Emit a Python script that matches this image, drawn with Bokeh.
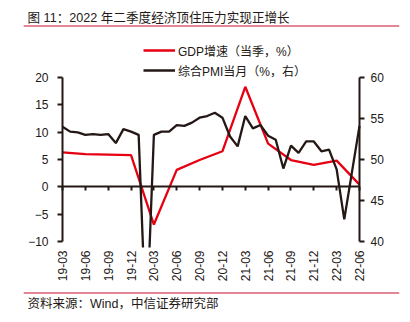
import math
from bokeh.plotting import figure
from bokeh.layouts import column
from bokeh.models import (Range1d, LinearAxis, FixedTicker, Label, Legend,
                          LegendItem, Span, ColumnDataSource)
from bokeh.embed import file_html
from bokeh.resources import INLINE

# ---- data ----
tick_labels = ["19-03", "19-06", "19-09", "19-12", "20-03", "20-06", "20-09",
               "20-12", "21-03", "21-06", "21-09", "21-12", "22-03", "22-06"]

# GDP yoy (quarterly, %)
gdp = [6.3, 6.0, 5.9, 5.8, -6.9, 3.1, 4.9, 6.5, 18.3, 7.9, 4.9, 4.0, 4.8, 0.4]

# Composite PMI (monthly), 2019-03 .. 2022-06
pmi = [54.0, 53.4, 53.3, 53.0, 53.1, 53.0, 53.1, 52.0, 53.7, 53.4,
       53.0, 28.9, 53.0, 53.4, 53.4, 54.2, 54.1, 54.5, 55.1, 55.3, 55.7, 55.1,
       52.8, 51.6, 55.3, 53.8, 54.2, 52.9, 52.4, 48.9, 51.7, 50.8, 52.2, 52.2,
       51.0, 51.2, 48.8, 42.7, 48.4, 54.1]

left_ticks = [-10, -5, 0, 5, 10, 15, 20]
right_ticks = [40, 45, 50, 55, 60]

title_text = "图 11：2022 年二季度经济顶住压力实现正增长"
source_text = "资料来源：Wind，中信证券研究部"
gdp_name = "GDP增速（当季，%）"
pmi_name = "综合PMI当月（%，右）"

# ---- positions (months since 2019-03) ----
pmi_x = list(range(len(pmi)))
gdp_x = [3 * i for i in range(len(gdp))]
tick_pos = gdp_x
x_lo, x_hi = 0, len(pmi) - 1

RED = "#e60012"
RULE = "#c8102e"
BLACK = "#231815"
FONT = "Liberation Sans, Noto Sans CJK SC"
W = 410

# common horizontal frame (the red rules' extent)
FL, FR = 23, 399
# plot-area pixel extent inside it
AL, AR = 62, 359
ppm = (AR - AL) / (x_hi - x_lo)

def strip(height):
    f = figure(width=W, height=height, output_backend="svg", toolbar_location=None,
               x_range=Range1d(0, FR - FL), y_range=Range1d(height, 0),
               x_axis_location=None, y_axis_location=None,
               min_border_left=FL, min_border_right=W - FR,
               min_border_top=0, min_border_bottom=0)
    f.grid.visible = False
    f.outline_line_color = None
    return f

# ---------- title strip ----------
TH = 27
t = strip(TH)
t.add_layout(Label(x=4, y=17, text=title_text, text_font_size="12.6px", text_font=FONT,
                   text_baseline="middle", text_color=BLACK))
t.add_layout(Span(location=25.5, dimension="width", line_color=RULE, line_width=1))

# ---------- main chart ----------
PH = 264
top_extra = 41          # px of frame above the "20" tick
bot_extra = 6           # px of frame below the "-10" tick (room for its label)
scale_px = 164          # px between -10 and 20
p = figure(width=W, height=PH, output_backend="svg", toolbar_location=None,
           x_range=Range1d(x_lo - (AL - FL) / ppm, x_hi + (FR - AR) / ppm),
           y_range=Range1d(-10 - 30 * bot_extra / scale_px, 20 + 30 * top_extra / scale_px),
           x_axis_location=None, y_axis_location=None,
           min_border_left=FL, min_border_right=W - FR,
           min_border_top=9, min_border_bottom=50 - bot_extra)
p.extra_y_ranges = {"pmi": Range1d(40 - 20 * bot_extra / scale_px,
                                   60 + 20 * top_extra / scale_px)}
p.grid.visible = False
p.outline_line_color = None
p.background_fill_color = "white"
p.border_fill_color = "white"

def style_axis(ax):
    ax.axis_line_color = BLACK
    ax.axis_line_width = 2
    ax.major_tick_line_color = BLACK
    ax.major_tick_line_width = 2
    ax.minor_tick_line_color = None
    ax.major_label_text_font_size = "12px"
    ax.major_label_text_font = FONT
    ax.major_label_text_color = BLACK

left = LinearAxis(ticker=FixedTicker(ticks=left_ticks), bounds=(-10, 20),
                  fixed_location=x_lo)
style_axis(left)
left.major_tick_out = 5
left.major_tick_in = 0
left.major_label_standoff = 9
p.add_layout(left, "left")

right = LinearAxis(y_range_name="pmi", ticker=FixedTicker(ticks=right_ticks),
                   bounds=(40, 60), fixed_location=x_hi)
style_axis(right)
right.major_tick_out = 5
right.major_tick_in = 0
right.major_label_standoff = 6
p.add_layout(right, "right")

# zero line axis with downward ticks
zero_ax = LinearAxis(ticker=FixedTicker(ticks=tick_pos), fixed_location=0,
                     bounds=(x_lo, x_hi))
style_axis(zero_ax)
zero_ax.major_tick_in = 4
zero_ax.major_tick_out = 0
zero_ax.major_label_text_color = None
p.add_layout(zero_ax, "above")

# bottom labels
bottom = LinearAxis(ticker=FixedTicker(ticks=tick_pos),
                    major_label_overrides={pos: lab for pos, lab in zip(tick_pos, tick_labels)})
style_axis(bottom)
bottom.axis_line_color = None
bottom.major_tick_line_color = None
bottom.major_tick_out = 0
bottom.major_tick_in = 0
bottom.major_label_orientation = math.pi / 2
bottom.major_label_standoff = 9 - bot_extra
p.add_layout(bottom, "below")

src_gdp = ColumnDataSource(dict(x=gdp_x, y=gdp))
src_pmi = ColumnDataSource(dict(x=pmi_x, y=pmi))
r_gdp = p.line("x", "y", source=src_gdp, line_color=RED, line_width=2.3)
r_pmi = p.line("x", "y", source=src_pmi, line_color=BLACK, line_width=2.3,
               y_range_name="pmi")

legend = Legend(items=[LegendItem(label=gdp_name, renderers=[r_gdp]),
                       LegendItem(label=pmi_name, renderers=[r_pmi])],
                location=(143 - FL, 161 + bot_extra), orientation="vertical",
                padding=0, margin=0, spacing=0,
                label_height=20, glyph_height=20, glyph_width=32,
                label_standoff=3, border_line_color=None,
                background_fill_alpha=0,
                label_text_font_size="12px", label_text_font=FONT,
                label_text_color=BLACK)
p.add_layout(legend, "center")

# ---------- source strip ----------
SH = 322 - TH - PH
s = strip(SH)
s.add_layout(Span(location=1.5, dimension="width", line_color=RULE, line_width=1))
s.add_layout(Label(x=4, y=12, text=source_text, text_font_size="12.5px", text_font=FONT,
                   text_baseline="middle", text_color=BLACK))

layout = column(t, p, s, spacing=0)
open("out.html", "w").write(file_html(layout, INLINE))
